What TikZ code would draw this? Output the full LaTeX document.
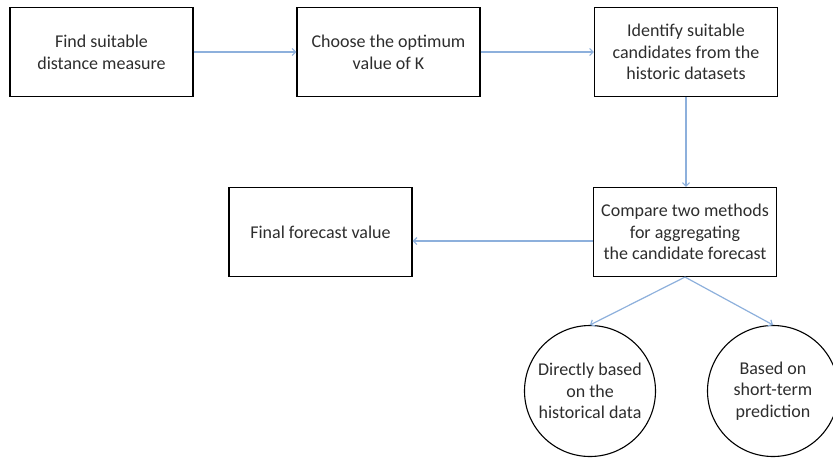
\documentclass[tikz,border=0pt]{standalone}
\usepackage{fontspec}
\setmainfont{Carlito}
\usetikzlibrary{arrows.meta}
\definecolor{arrowblue}{RGB}{141,176,220}
\definecolor{txtgray}{RGB}{45,45,45}
\begin{document}
\begin{tikzpicture}[x=1pt,y=-1pt,
  txt/.style={font=\fontsize{18}{21.7}\selectfont, text=txtgray},
  box/.style={txt, draw=black, line width=1.1pt, minimum width=183pt, minimum height=89pt, inner sep=0pt, align=center},
  circ/.style={txt, circle, draw=black, line width=1.1pt, minimum size=131pt, inner sep=0pt, align=center},
  conn/.style={draw=arrowblue, line width=1.2pt, -{Straight Barb[length=3.5pt,width=7pt]}}]
\useasboundingbox (0,0) rectangle (833,459);
\node[box] (b1) at (101.5,52) {Find suitable\\distance measure};
\node[box] (b2) at (388.5,52) {Choose the optimum\\value of K};
\node[box] (b3) at (686,52) {Identify suitable\\candidates from the\\historic datasets};
\node[box] (b4) at (685,232) {Compare two methods\\for aggregating\\the candidate forecast};
\node[box] (b5) at (320.5,232) {Final forecast value};
\node[circ] (c1) at (590,391) {Directly based\\on the\\historical data};
\node[circ] (c2) at (773,391) {Based on\\short-term\\prediction};
\draw[conn] (b1) -- (b2);
\draw[conn] (b2) -- (b3);
\draw[conn] (b3.south) -- (b3.south |- b4.north);
\draw[conn] ([yshift=-9pt]b4.west) -- ([yshift=-9pt]b5.east);
\draw[conn] (b4.south) -- (c1.north);
\draw[conn] (b4.south) -- (c2.north);
\end{tikzpicture}
\end{document}
